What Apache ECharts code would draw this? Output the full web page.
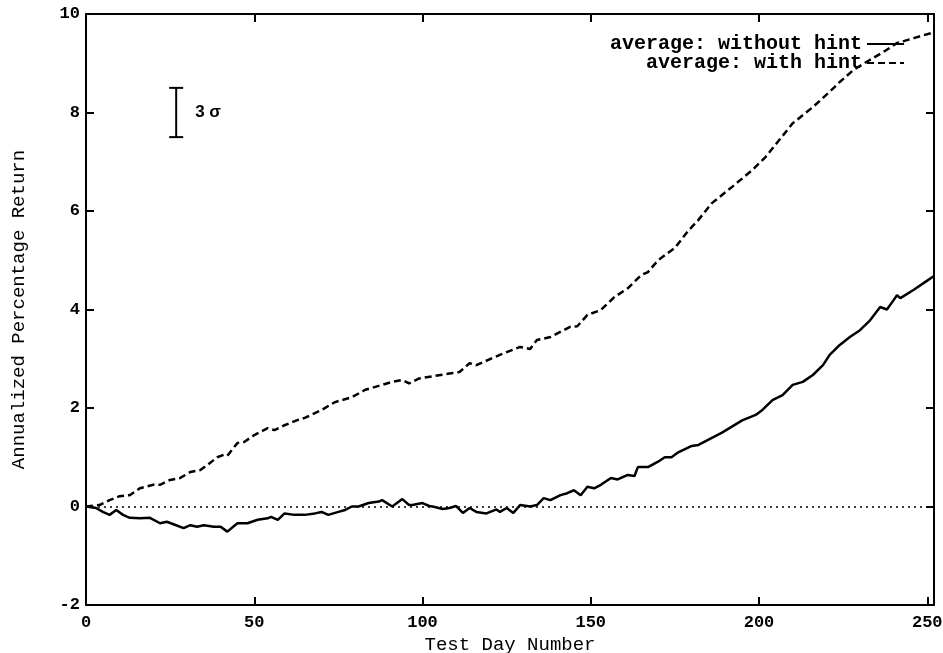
<!DOCTYPE html>
<html>
<head>
<meta charset="utf-8">
<script src="https://cdn.jsdelivr.net/npm/echarts@6/dist/echarts.min.js"></script>
<style>
  html, body { margin: 0; padding: 0; background: #fff; }
  #main { width: 943px; height: 653px; }
</style>
</head>
<body>
<div id="main"></div>
<script>
// days and values
var withHintDays = [0, 4, 7, 10, 13, 16, 20, 22, 25, 28, 31, 34, 36, 39, 41, 42, 45, 47, 50, 54, 56, 59, 63, 65, 70, 74, 79, 83, 88, 91, 94, 96, 99, 108, 111, 114, 116, 123, 129, 132, 134, 138, 144, 146, 149, 153, 157, 161, 165, 167, 170, 175, 179, 182, 186, 192, 198, 202, 206, 210, 216, 221, 224, 228, 233, 237, 241, 246, 251, 252];
var withHintVals = [0, 0.03, 0.13, 0.21, 0.23, 0.37, 0.44, 0.44, 0.54, 0.58, 0.7, 0.74, 0.84, 1.0, 1.05, 1.03, 1.29, 1.31, 1.45, 1.59, 1.55, 1.65, 1.76, 1.8, 1.96, 2.12, 2.22, 2.37, 2.47, 2.53, 2.57, 2.5, 2.6, 2.7, 2.73, 2.91, 2.87, 3.08, 3.24, 3.2, 3.38, 3.44, 3.65, 3.66, 3.89, 3.99, 4.25, 4.43, 4.7, 4.76, 5.0, 5.25, 5.6, 5.82, 6.16, 6.49, 6.83, 7.1, 7.44, 7.78, 8.11, 8.42, 8.62, 8.86, 9.07, 9.23, 9.41, 9.51, 9.61, 9.65];

var noHintDays = [0, 3, 5, 7, 9, 11, 13, 16, 19, 22, 24, 26, 29, 31, 33, 35, 38, 40, 42, 45, 48, 51, 54, 55, 57, 59, 62, 65, 68, 70, 72, 75, 77, 79, 81, 84, 87, 88, 91, 94, 96, 97, 100, 102, 103, 106, 108, 110, 112, 114, 116, 119, 122, 123, 125, 127, 129, 132, 134, 136, 138, 141, 143, 145, 147, 149, 151, 153, 156, 158, 161, 163, 164, 167, 170, 172, 174, 176, 180, 182, 189, 195, 199, 201, 204, 207, 210, 213, 216, 219, 221, 224, 227, 230, 233, 236, 238, 240, 241, 242, 246, 249, 252];
var noHintVals = [0, -0.03, -0.11, -0.17, -0.07, -0.17, -0.23, -0.24, -0.23, -0.34, -0.31, -0.36, -0.44, -0.38, -0.41, -0.38, -0.41, -0.41, -0.51, -0.34, -0.34, -0.27, -0.24, -0.21, -0.27, -0.14, -0.17, -0.17, -0.14, -0.11, -0.17, -0.11, -0.07, 0.0, 0.0, 0.07, 0.1, 0.13, 0.0, 0.15, 0.03, 0.03, 0.07, 0.01, 0.0, -0.05, -0.03, 0.01, -0.13, -0.03, -0.11, -0.14, -0.06, -0.11, -0.03, -0.13, 0.03, 0.0, 0.03, 0.17, 0.13, 0.23, 0.27, 0.33, 0.23, 0.4, 0.37, 0.44, 0.58, 0.55, 0.64, 0.62, 0.8, 0.8, 0.91, 1.0, 1.0, 1.1, 1.23, 1.25, 1.5, 1.75, 1.86, 1.96, 2.16, 2.26, 2.47, 2.53, 2.67, 2.87, 3.08, 3.28, 3.44, 3.58, 3.78, 4.05, 4.0, 4.19, 4.29, 4.23, 4.4, 4.54, 4.68];

var xTicks = { min: 0, max: 252, interval: 50 };
var yTicks = { min: -2, max: 10, interval: 2 };
var zeroLevel = 0;
// 3 sigma bar: day, low, high
var sigmaBar = [26.8, 7.5, 8.5];
var sigmaLabel = '3 σ';

var nameNoHint = 'average: without hint';
var nameWithHint = 'average: with hint';

function pairs(xs, ys) {
  return xs.map(function (x, i) { return [x, ys[i]]; });
}

var chartDom = document.getElementById('main');
var myChart = echarts.init(chartDom, null, { renderer: 'canvas' });

var tickFont = { color: '#000', fontFamily: 'Liberation Mono', fontWeight: 'bold', fontSize: 17 };
var nameFont = { color: '#000', fontFamily: 'Liberation Mono', fontSize: 19 };
var legendFont = { color: '#000', fontFamily: 'Liberation Mono', fontWeight: 'bold', fontSize: 20 };

function frameAxis(base, extra) {
  return Object.assign({
    type: 'value',
    axisLine: { show: true, onZero: false, lineStyle: { color: '#000', width: 2 } },
    axisTick: { show: true, inside: true, length: 8, lineStyle: { color: '#000', width: 2 } },
    splitLine: { show: false }
  }, base, extra);
}

function legendFor(name, top) {
  return {
    data: [name], right: 33, top: top, align: 'right', orient: 'vertical',
    itemWidth: 37, itemHeight: 12, textStyle: legendFont, selectedMode: false,
    itemStyle: { opacity: 0 }
  };
}

var option = {
  backgroundColor: '#fff',
  animation: false,
  grid: { left: 86, right: 9, top: 14, bottom: 48, containLabel: false, outerBoundsMode: 'none' },
  legend: [legendFor(nameNoHint, 29), legendFor(nameWithHint, 48)],
  xAxis: [
    frameAxis(xTicks, {
      position: 'bottom',
      name: 'Test Day Number', nameLocation: 'middle', nameGap: 29, nameTextStyle: nameFont,
      axisLabel: Object.assign({ margin: 9, showMaxLabel: false }, tickFont)
    }),
    frameAxis(xTicks, { position: 'top', axisLabel: { show: false } })
  ],
  yAxis: [
    frameAxis(yTicks, {
      position: 'left',
      name: 'Annualized Percentage Return', nameLocation: 'middle', nameGap: 58, nameTextStyle: nameFont,
      axisLabel: Object.assign({ margin: 6 }, tickFont)
    }),
    frameAxis(yTicks, { position: 'right', axisLabel: { show: false } })
  ],
  series: [
    {
      name: nameNoHint,
      type: 'line',
      data: pairs(noHintDays, noHintVals),
      symbol: 'none',
      lineStyle: { color: '#000', width: 2.5, type: 'solid' },
      itemStyle: { color: '#000' },
      markLine: {
        silent: true,
        symbol: 'none',
        label: { show: false },
        lineStyle: { color: '#000', width: 1.5, type: [2, 4] },
        data: [{ yAxis: zeroLevel }]
      }
    },
    {
      name: nameWithHint,
      type: 'line',
      data: pairs(withHintDays, withHintVals),
      symbol: 'none',
      lineStyle: { color: '#000', width: 2.5, type: [7, 4] },
      itemStyle: { color: '#000' }
    },
    {
      type: 'custom',
      data: [sigmaBar],
      renderItem: function (params, api) {
        var top = api.coord([api.value(0), api.value(2)]);
        var bot = api.coord([api.value(0), api.value(1)]);
        var cap = 7;
        var st = { stroke: '#000', lineWidth: 2 };
        return {
          type: 'group',
          children: [
            { type: 'line', shape: { x1: top[0], y1: top[1], x2: bot[0], y2: bot[1] }, style: st },
            { type: 'line', shape: { x1: top[0] - cap, y1: top[1], x2: top[0] + cap, y2: top[1] }, style: st },
            { type: 'line', shape: { x1: bot[0] - cap, y1: bot[1], x2: bot[0] + cap, y2: bot[1] }, style: st },
            {
              type: 'text',
              style: {
                text: sigmaLabel, x: top[0] + 19, y: (top[1] + bot[1]) / 2,
                verticalAlign: 'middle', align: 'left',
                font: 'bold 17px "Liberation Sans"', fill: '#000'
              }
            }
          ]
        };
      }
    }
  ]
};

option && myChart.setOption(option);
</script>
</body>
</html>
